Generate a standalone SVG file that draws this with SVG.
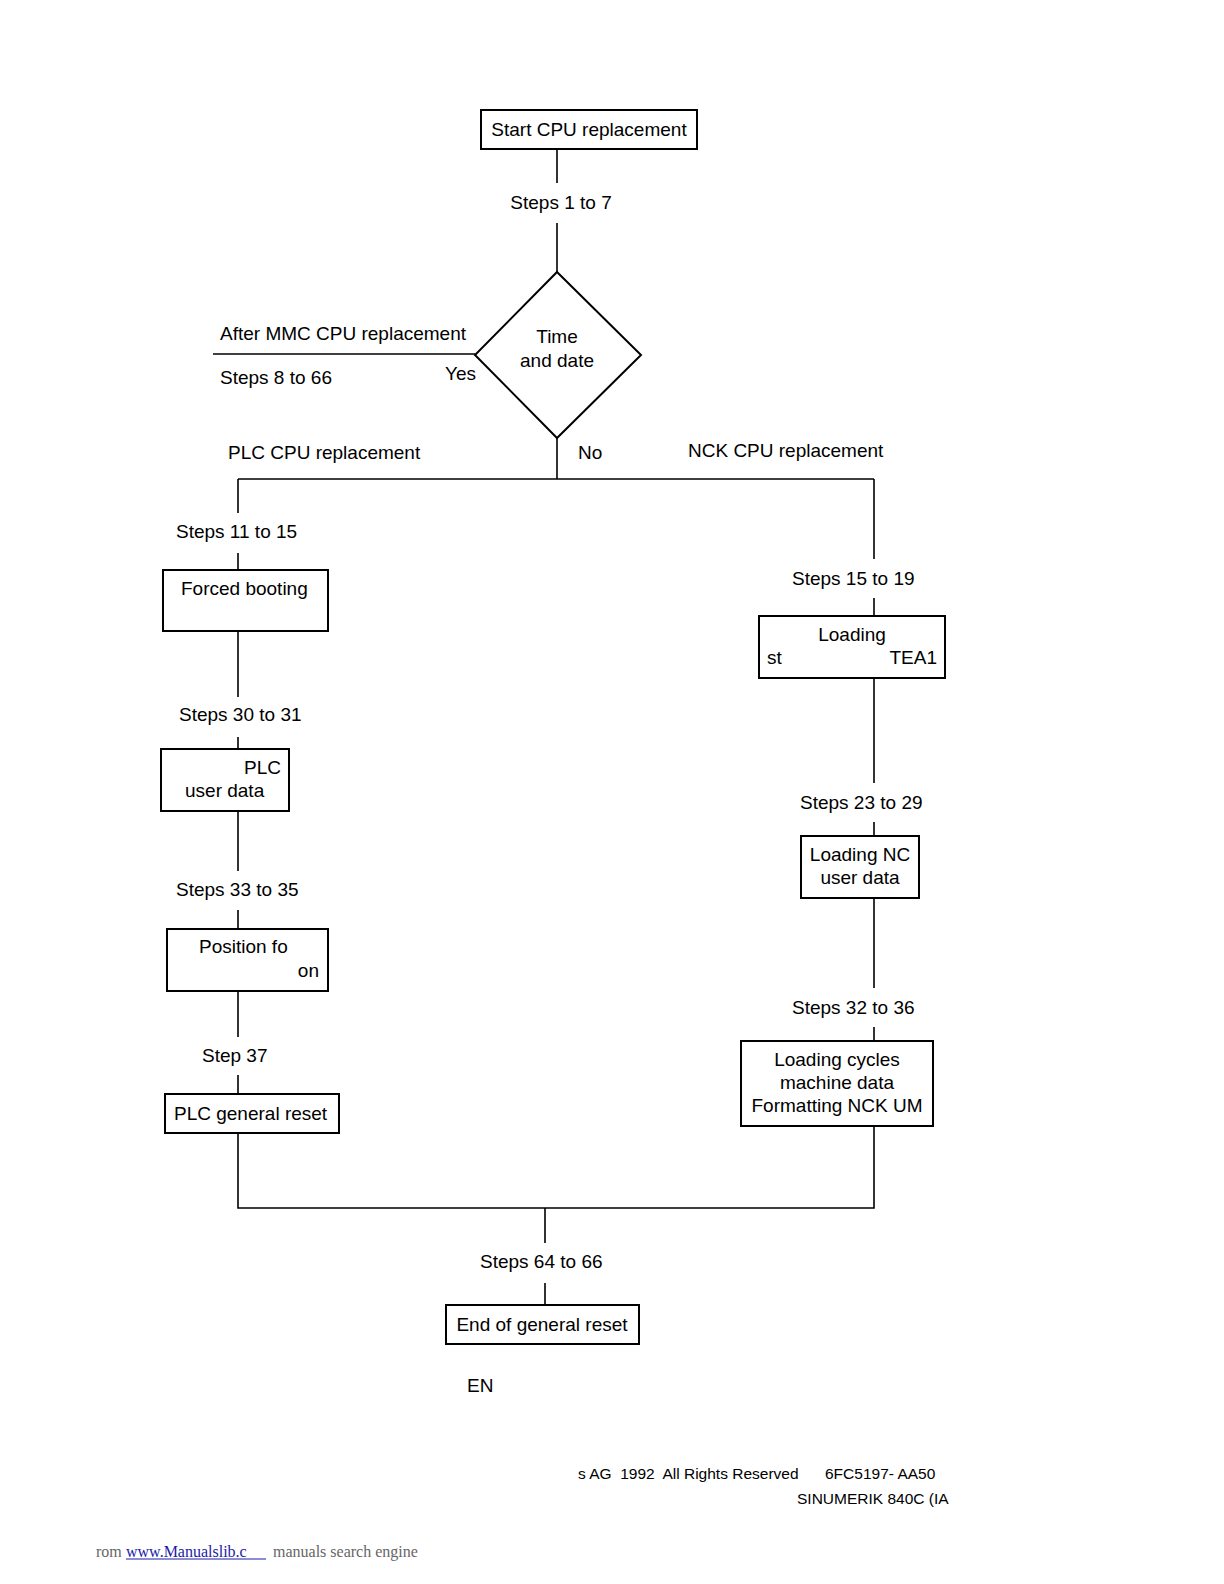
<svg xmlns="http://www.w3.org/2000/svg" width="1224" height="1584" viewBox="0 0 1224 1584">
<style>
.box{fill:#fff;stroke:#000;stroke-width:2}
.ln{fill:none;stroke:#000;stroke-width:1.6}
text{font-family:"Liberation Sans",Arial,sans-serif;font-size:19px;fill:#000}
.m{text-anchor:middle}
.e{text-anchor:end}
.ft{font-size:15.5px;white-space:pre}
.sf{font-family:"Liberation Serif","Times New Roman",serif;font-size:16px;fill:#666}
</style>
<rect width="1224" height="1584" fill="#fff"/>
<g id="connectors">
<path class="ln" d="M557,149V183M557,223V272"/>
<path class="ln" d="M213,354H475"/>
<path class="ln" d="M557,438V479M238,479H874M238,479V513M238,553V570"/>
<path class="ln" d="M238,631V697M238,737V749M238,811V871M238,910V929M238,991V1037M238,1075V1094M238,1133V1208H874V1126"/>
<path class="ln" d="M874,479V559M874,598V616M874,678V783M874,822V836M874,898V988M874,1027V1041"/>
<path class="ln" d="M545,1208V1243M545,1283V1305"/>
</g>
<g id="labels">
<text x="561" y="209" class="m">Steps 1 to 7</text>
<text x="220" y="340">After MMC CPU replacement</text>
<text x="220" y="384">Steps 8 to 66</text>
<text x="445" y="380">Yes</text>
<text x="578" y="459">No</text>
<text x="228" y="459">PLC CPU replacement</text>
<text x="688" y="457">NCK CPU replacement</text>
<text x="176" y="538">Steps 11 to 15</text>
<text x="179" y="721">Steps 30 to 31</text>
<text x="176" y="896">Steps 33 to 35</text>
<text x="202" y="1062">Step 37</text>
<text x="792" y="585">Steps 15 to 19</text>
<text x="800" y="809">Steps 23 to 29</text>
<text x="792" y="1014">Steps 32 to 36</text>
<text x="480" y="1268">Steps 64 to 66</text>
<text x="467" y="1392">EN</text>
</g>
<g id="start">
<rect class="box" x="481" y="110" width="216" height="39"/>
<text x="589" y="136" class="m">Start CPU replacement</text>
</g>
<g id="decision">
<polygon class="box" points="557,272 641,355 557,438 475,355"/>
<text x="557" y="343" class="m">Time</text>
<text x="557" y="367" class="m">and date</text>
</g>
<g id="forced">
<rect class="box" x="163" y="570" width="165" height="61"/>
<text x="181" y="595">Forced booting</text>
</g>
<g id="plcuser">
<rect class="box" x="161" y="749" width="128" height="62"/>
<text x="281" y="774" class="e">PLC</text>
<text x="185" y="797">user data</text>
</g>
<g id="position">
<rect class="box" x="167" y="929" width="161" height="62"/>
<text x="199" y="953">Position fo</text>
<text x="319" y="977" class="e">on</text>
</g>
<g id="plcreset">
<rect class="box" x="165" y="1094" width="174" height="39"/>
<text x="174" y="1120">PLC general reset</text>
</g>
<g id="loading">
<rect class="box" x="759" y="616" width="186" height="62"/>
<text x="852" y="641" class="m">Loading</text>
<text x="767" y="664">st</text>
<text x="937" y="664" class="e">TEA1</text>
</g>
<g id="loadingnc">
<rect class="box" x="801" y="836" width="118" height="62"/>
<text x="860" y="861" class="m">Loading NC</text>
<text x="860" y="884" class="m">user data</text>
</g>
<g id="cycles">
<rect class="box" x="741" y="1041" width="192" height="85"/>
<text x="837" y="1066" class="m">Loading cycles</text>
<text x="837" y="1089" class="m">machine data</text>
<text x="837" y="1112" class="m">Formatting NCK UM</text>
</g>
<g id="end">
<rect class="box" x="446" y="1305" width="193" height="39"/>
<text x="542" y="1331" class="m">End of general reset</text>
</g>
<g id="footer">
<text x="578" y="1479" class="ft" xml:space="preserve">s AG  1992  All Rights Reserved</text>
<text x="825" y="1479" class="ft">6FC5197- AA50</text>
<text x="797" y="1504" class="ft">SINUMERIK 840C (IA</text>
<text x="96" y="1557" class="sf">rom</text>
<text x="126" y="1557" class="sf" fill="#1a1aa6" style="fill:#1a1aa6">www.Manualslib.c</text>
<line x1="126" y1="1559" x2="266" y2="1559" stroke="#1a1aa6" stroke-width="1"/>
<text x="273" y="1557" class="sf">manuals search engine</text>
</g>
</svg>
